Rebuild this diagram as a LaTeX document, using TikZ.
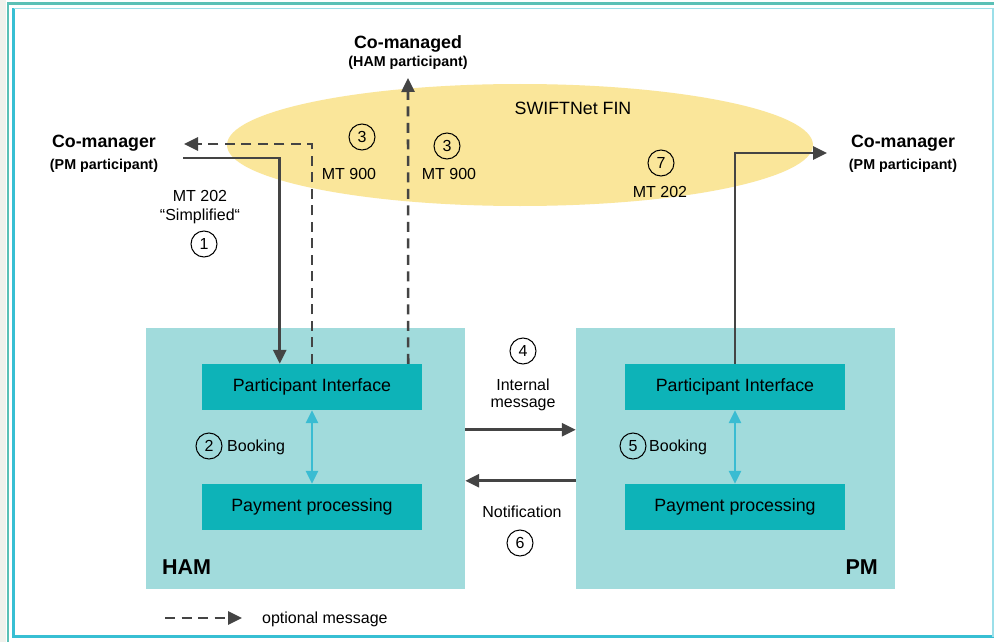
\documentclass[tikz,border=0pt]{standalone}
\usepackage{fontspec}
\setmainfont{Liberation Sans}
\usetikzlibrary{arrows.meta,shapes.geometric,calc}
\definecolor{swift}{HTML}{FAE69A}
\definecolor{hambg}{HTML}{A1DBDC}
\definecolor{inbox}{HTML}{0DB3B8}
\definecolor{darkarr}{HTML}{444444}
\definecolor{cyanarr}{HTML}{3ABCD2}
\definecolor{framea}{HTML}{5BC0B6}
\definecolor{frameb}{HTML}{38BFD3}
\definecolor{leftgray}{HTML}{F0F1EC}
\tikzset{
  lbl/.style={font=\fontsize{16}{19}\selectfont, inner sep=0pt, yshift=-1pt},
  boxlbl/.style={font=\fontsize{17.8}{21}\selectfont},
  partybig/.style={font=\bfseries\fontsize{17.8}{21}\selectfont, inner sep=0pt, yshift=-1.5pt},
  partysmall/.style={font=\bfseries\fontsize{14.3}{17}\selectfont, inner sep=0pt, yshift=-1pt},
  sysname/.style={font=\bfseries\fontsize{21.5}{25}\selectfont, inner sep=0pt},
  sysbox/.style={fill=hambg, minimum width=319pt, minimum height=261pt, inner sep=0pt},
  inbx/.style={fill=inbox, minimum width=220pt, minimum height=46pt, inner sep=0pt, boxlbl},
  num/.style={circle, draw=black, line width=1pt, minimum size=26pt, inner sep=0pt, font=\fontsize{16}{19}\selectfont},
  solidarr/.style={draw=darkarr, line width=2.8pt, -{Triangle[length=14pt,width=13pt]}},
  dasharr/.style={draw=darkarr, line width=2.6pt, dash pattern=on 10pt off 6.5pt, -{Triangle[length=14pt,width=13pt]}},
  bookarr/.style={draw=cyanarr, line width=2.6pt, {Triangle[length=13pt,width=12pt]}-{Triangle[length=13pt,width=12pt]}},
}
\begin{document}
\begin{tikzpicture}[x=1pt,y=-1pt]
\useasboundingbox (0,0) rectangle (994,642);
\fill[white] (0,0) rectangle (994,642);
\fill[leftgray] (0,0) rectangle (6,642);
\draw[framea, line width=2.5pt] (8,642) -- (8,3.5) -- (994,3.5);
\draw[frameb, line width=2.5pt] (13.5,8.5) -- (13.5,636.5) -- (994,636.5);
\draw[frameb!50, line width=1.5pt] (13.5,8.5) -- (993,8.5) -- (993,636.5);

% SWIFTNet ellipse
\node[ellipse, fill=swift, minimum width=586pt, minimum height=122pt, inner sep=0pt] (fin) at (520,145) {};
\node[lbl, font=\fontsize{17.8}{21}\selectfont] (finlbl) at (573,107) {SWIFTNet FIN};

% parties
\node[partybig] (cmd) at (408,42) {Co-managed};
\node[partysmall] (cmdsub) at (408,62) {(HAM participant)};
\node[partybig] (cml) at (104,142) {Co-manager};
\node[partysmall] (cmlsub) at (104,165) {(PM participant)};
\node[partybig] (cmr) at (903,142) {Co-manager};
\node[partysmall] (cmrsub) at (903,165) {(PM participant)};

% systems
\node[sysbox] (ham) at (305.5,458.5) {};
\node[sysbox] (pm) at (735.5,458.5) {};
\node[inbx] (hpi) at (312,387) {\raisebox{-1.5pt}{Participant Interface}};
\node[inbx] (hpp) at (312,507) {\raisebox{-1pt}{Payment processing}};
\node[inbx] (ppi) at (735,387) {\raisebox{-1.5pt}{Participant Interface}};
\node[inbx] (ppp) at (735,507) {\raisebox{-1pt}{Payment processing}};
\node[sysname, anchor=west] (hamlbl) at (162,567) {HAM};
\node[sysname, anchor=east] (pmlbl) at (878,567) {PM};

% booking arrows
\draw[bookarr] (hpi.south) -- (hpp.north);
\draw[bookarr] (ppi.south) -- (ppp.north);
\node[num] (n2) at (209,446) {2};
\node[lbl, anchor=west] (b2) at (227,446) {Booking};
\node[num] (n5) at (633,446) {5};
\node[lbl, anchor=west] (b5) at (649,446) {Booking};

% free ends
\coordinate (s1) at (183,158);
\coordinate (d1) at (184,144);
\coordinate (d2) at (408,78);
\coordinate (s7) at (827,153);

% messages
\draw[solidarr] (s1) -| ($(hpi.north west)+(78,0)$);
\draw[dasharr] (hpi.north) |- (d1);
\draw[dasharr] ($(hpi.north east)+(-14,0)$) -- (d2);
\draw[solidarr] (ppi.north) |- (s7);
\draw[solidarr] ($(ham.north east)+(0,102)$) -- ($(pm.north west)+(0,102)$);
\draw[solidarr] ($(pm.north west)+(0,153)$) -- ($(ham.north east)+(0,153)$);

% labels
\node[lbl] (mt1) at (200,195) {MT 202};
\node[lbl] (simp) at (200,215) {“Simplified“};
\node[num] (n1) at (204,244) {1};
\node[num] (n3a) at (362,137) {3};
\node[lbl] (mt3a) at (349,173) {MT 900};
\node[num] (n3b) at (447,146) {3};
\node[lbl] (mt3b) at (449,173) {MT 900};
\node[num] (n7) at (661,163) {7};
\node[lbl] (mt7) at (660,191) {MT 202};
\node[num] (n4) at (523,351) {4};
\node[lbl] (int1) at (523,384) {Internal};
\node[lbl] (int2) at (523,404) {message};
\node[lbl] (notif) at (522,511) {Notification};
\node[num] (n6) at (520,543) {6};

% legend
\coordinate (l1) at (165,618);
\coordinate (l2) at (242,618);
\draw[dasharr] (l1) -- (l2);
\node[lbl, anchor=west] (leg) at (262,618) {optional message};
\end{tikzpicture}
\end{document}
